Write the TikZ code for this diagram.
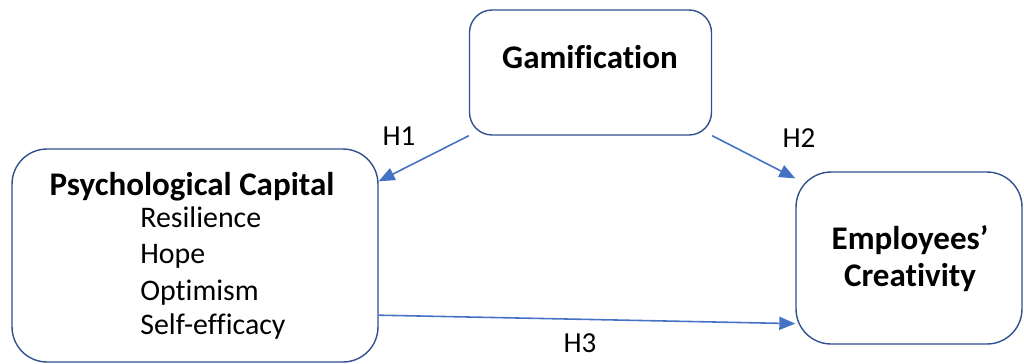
\documentclass[tikz,border=0pt]{standalone}
\usepackage{fontspec}
\setmainfont{Carlito}[Ligatures=NoCommon]
\usetikzlibrary{positioning,arrows.meta,calc}
\definecolor{boxblue}{HTML}{2F528F}
\definecolor{lineblue}{HTML}{4472C4}

\begin{document}
\begin{tikzpicture}[x=0.02cm,y=-0.02cm]
    \tikzstyle{construct} = [draw=boxblue,line width=0.8pt,rectangle,rounded corners=0.7cm]
    \tikzstyle{title} = [font=\fontsize{18.8}{21}\selectfont\bfseries,inner sep=0pt]
    \tikzstyle{item} = [font=\fontsize{17}{20}\selectfont,inner sep=0pt,anchor=base west]
    \tikzstyle{hyp} = [font=\fontsize{16.5}{20}\selectfont,inner sep=0pt]
    \tikzstyle{path} = [draw=lineblue,line width=0.9pt,-{Triangle[length=3.2mm,width=2.6mm]}]
      \useasboundingbox (0,0) rectangle (1024,363);
      \node[construct,rounded corners=0.45cm,minimum width=4.84cm,minimum height=2.5cm] (gamif) at (590.5,72.5) {};
      \node[construct,minimum width=7.32cm,minimum height=4.26cm] (psycap) at (195,255.5) {};
      \node[construct,minimum width=4.52cm,minimum height=3.44cm] (creat) at (909,258) {};
      \node[title] (gamifText) at (590,57) {Gamification};
      \node[title] (psycapText) at (192,187) {Psychological Capital};
      \node[item] (resil) at (140,227) {Resilience};
      \node[item] (hope) at (140,263) {Hope};
      \node[item] (optim) at (140,300) {Optimism};
      \node[item] (selfeff) at (140,334) {Self-efficacy};
      \node[title,align=center] (creatText) at (910,259) {Employees’\\Creativity};
      \node[hyp] (hOne) at (399,136) {H1};
      \node[hyp] (hTwo) at (799,138) {H2};
      \node[hyp] (hThree) at (580,343) {H3};
      \draw[path] (gamif.south west) -- (psycap.22);
      \draw[path] (gamif.south east) -- (creat.145.5);
      \draw[path] (psycap.-18) -- (creat.210.6);
  \end{tikzpicture}
\end{document}
